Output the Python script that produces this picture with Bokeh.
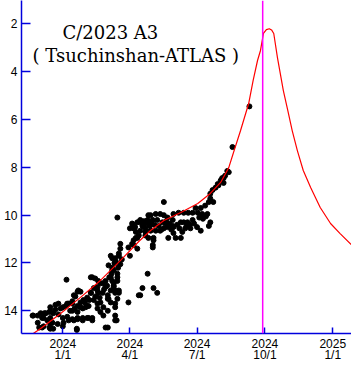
from bokeh.plotting import figure
from bokeh.models import Range1d, FixedTicker, Span, Label
from bokeh.embed import file_html
from bokeh.resources import INLINE

# Observations: days since 2024-01-01, total magnitude
obs_day = [
    -40, -34, -32, -26, -18, -13, -28, -21, -14, -7, -23, -17, -13, -6, 0, 0, 1, 6, 13, 20,
    19, 27, 33, 5, 20, 24, 17, 13, 6, 0, -6, -10, -17, -18, -25, -30, -34, -41, 13, 20,
    24, 28, 33, 38, 40, 44, 51, 47, 54, 61, 65, 69, 74, 67, 71, 76, 51, 55, 47, 33,
    40, 71, 61, -26, -17, -28, -17, -17, -10, -3, 4, 8, 13, 15, 21, 20, 24, 8, 15, 20,
    27, 35, 40, 27, 31, 35, 38, 42, 47, 48, 42, 47, 51, 38, 48, 54, 58, 58, 61, 62,
    55, 61, 67, 65, 69, 71, 76, 74, 74, 62, 67, 78, 78, 71, 71, 58, 19, 89, 91, 89,
    94, 99, 103, 99, 105, 101, 115, 108, 105, 65, 71, 69, 67, 69, 71, 74, 65, 71, 73, 76,
    76, 96, 122, 123, 103, 123, 128, 74, 94, 105, 116, 126, 116, 109, 112, 119,
    230, 137, 223, 220, 214, 211, 207, 203, 200, 204, 198, 193, 187, 180, 176, 170, 183, 196, 200, 198,
    187, 176, 169, 164, 160, 173, 166, 162, 153, 160, 150, 149, 149, 150, 157, 164, 142, 137, 132, 119,
    115, 122, 128, 135, 139, 142, 137, 132, 126, 119, 112, 108, 101, 96, 91, 112, 123, 101, 96, 122,
    143, 150, 200, 210, 216, 218, 225, 218, 253,
    95, 98, 104, 110, 113, 118, 124, 130, 134, 140, 145, 147, 155, 158, 168, 172, 178, 182, 185, 190,
    194, 189, 10, 16, 30, 36, 44, 50, 56, 60, 63, 66, 70, 72, 75, 78, 80,
]
obs_mag = [
    14.2, 14.5, 14.7, 14.65, 14.7, 14.75, 14.3, 14.4, 14.5, 14.55, 14.1, 14.3, 14.1, 14.15, 14.3, 14.65, 14.5, 14.25, 14.35, 14.35,
    14.75, 14.4, 14.3, 12.7, 13.2, 13.2, 13.4, 13.7, 13.7, 13.85, 13.7, 13.75, 13.85, 14.05, 14.1, 14.1, 14.2, 14.2, 14.0, 14.05,
    13.85, 13.55, 13.45, 13.25, 12.6, 12.65, 12.85, 13.15, 13.25, 13.5, 13.15, 12.85, 12.6, 12.2, 12.0, 11.7, 14.05, 14.2, 13.9, 13.8,
    14.3, 13.85, 14.7, 14.3, 14.55, 14.7, 14.75, 14.0, 13.95, 13.9, 13.8, 13.7, 13.6, 13.35, 13.15, 13.8, 13.65, 14.4, 14.4, 14.3,
    14.3, 14.3, 14.4, 13.9, 13.85, 13.8, 13.25, 13.05, 13.0, 13.25, 13.55, 13.7, 13.65, 12.6, 12.75, 12.85, 12.75, 13.0, 13.35, 13.5,
    13.85, 14.0, 12.3, 12.6, 12.95, 13.15, 13.25, 12.75, 12.45, 12.1, 11.8, 11.4, 11.2, 14.2, 14.4, 14.7, 14.8, 13.65, 11.7, 11.35,
    11.2, 10.95, 10.85, 10.7, 10.65, 11.4, 12.45, 13.05, 13.35, 11.7, 11.8, 12.3, 12.75, 13.0, 13.25, 13.5, 13.65, 13.7, 14.4, 13.15,
    11.6, 11.25, 11.25, 11.05, 13.35, 13.05, 13.25, 10.1, 10.35, 10.2, 10.0, 9.95, 10.95, 10.45, 10.7, 10.3,
    7.15, 9.45, 8.15, 8.35, 8.55, 8.75, 8.85, 8.95, 9.3, 9.45, 9.45, 9.6, 9.7, 9.7, 9.9, 9.9, 9.9, 9.95, 10.3, 10.45,
    10.65, 10.2, 10.3, 10.3, 10.3, 10.55, 10.55, 10.7, 10.95, 10.95, 10.5, 10.45, 10.2, 9.95, 9.9, 9.9, 10.1, 10.0, 9.95, 10.0,
    10.2, 10.2, 10.2, 10.3, 10.35, 10.5, 10.55, 10.65, 10.65, 10.65, 10.55, 10.45, 10.3, 10.55, 10.55, 10.85, 10.95, 10.95, 11.05, 11.35,
    10.95, 10.75, 9.1, 8.7, 8.45, 8.65, 8.2, 8.45, 5.45,
    10.4, 10.5, 10.3, 10.25, 10.35, 10.45, 10.4, 10.45, 10.6, 10.25, 10.35, 10.6, 10.4, 10.55, 10.45, 10.4, 10.35, 10.5, 10.1, 10.15,
    10.05, 9.95, 14.0, 13.9, 13.65, 13.55, 13.4, 13.45, 13.1, 12.95, 12.6, 12.45, 12.0, 11.95, 12.2, 12.05, 11.85,
]

# Predicted light curve (days since 2024-01-01, magnitude)
curve_day = [-46, -40, -30, -3, 24, 51, 78, 103, 119, 137, 160, 183, 200, 214, 225, 231, 241, 252,
             258, 264, 268, 272, 276, 280, 283, 286, 291, 299, 305, 311, 318, 326, 336, 349, 363, 376, 391]
curve_mag = [15.16, 14.95, 14.74, 14.11, 13.44, 12.73, 11.90, 11.10, 10.64, 10.22, 9.89, 9.51, 9.09, 8.63, 8.01, 7.42, 6.46, 5.33,
             4.37, 3.53, 3.11, 2.40, 2.24, 2.20, 2.25, 2.40, 3.41, 4.79, 5.62, 6.46, 7.30, 8.13, 8.84, 9.68, 10.35, 10.77, 11.23]

perihelion_day = 271  # 2024-09-28

x_tick_days = [0, 91, 182, 274, 366]
x_tick_labels = ["2024\n1/1", "2024\n4/1", "2024\n7/1", "2024\n10/1", "2025\n1/1"]
y_ticks = [2, 4, 6, 8, 10, 12, 14]

title_line1 = "C/2023 A3"
title_line2 = "( Tsuchinshan-ATLAS )"

BLUE = "#0000DD"

p = figure(width=351, height=365, output_backend="svg", toolbar_location=None,
           x_range=Range1d(-56, 391.4), y_range=Range1d(14.95, 1.02),
           min_border_left=21, min_border_right=0, min_border_top=0, min_border_bottom=32)
p.background_fill_color = "white"
p.border_fill_color = "white"
p.outline_line_color = None
p.grid.visible = False

p.xaxis.ticker = FixedTicker(ticks=x_tick_days)
p.xaxis.major_label_overrides = {d: lab for d, lab in zip(x_tick_days, x_tick_labels)}
p.yaxis.ticker = FixedTicker(ticks=y_ticks)

for ax in (p.xaxis[0], p.yaxis[0]):
    ax.axis_line_color = BLUE
    ax.axis_line_width = 1.5
    ax.major_tick_line_color = BLUE
    ax.major_tick_line_width = 1.5
    ax.minor_tick_line_color = None
    ax.major_tick_out = 0
    ax.major_label_text_font = "Liberation Sans"
    ax.major_label_text_font_size = "12px"
    ax.major_label_text_color = "black"

p.yaxis.major_label_standoff = 4
p.xaxis.major_label_standoff = 3
p.yaxis.major_tick_in = 9
p.xaxis.major_tick_in = 6
p.xaxis.major_label_text_line_height = 0.85

p.scatter(obs_day, obs_mag, size=5, color="black", marker="circle")
p.line(curve_day, curve_mag, line_color="red", line_width=1.2)

p.add_layout(Span(location=perihelion_day, dimension="height", line_color="magenta", line_width=1.5))

p.add_layout(Label(x=-0.5, y=2.36, text=title_line1, text_font="DejaVu Serif",
                   text_font_size="18px", text_color="black", text_baseline="alphabetic"))
p.add_layout(Label(x=-41, y=3.32, text=title_line2, text_font="DejaVu Serif",
                   text_font_size="18px", text_color="black", text_baseline="alphabetic"))

open("out.html", "w").write(file_html(p, INLINE))
